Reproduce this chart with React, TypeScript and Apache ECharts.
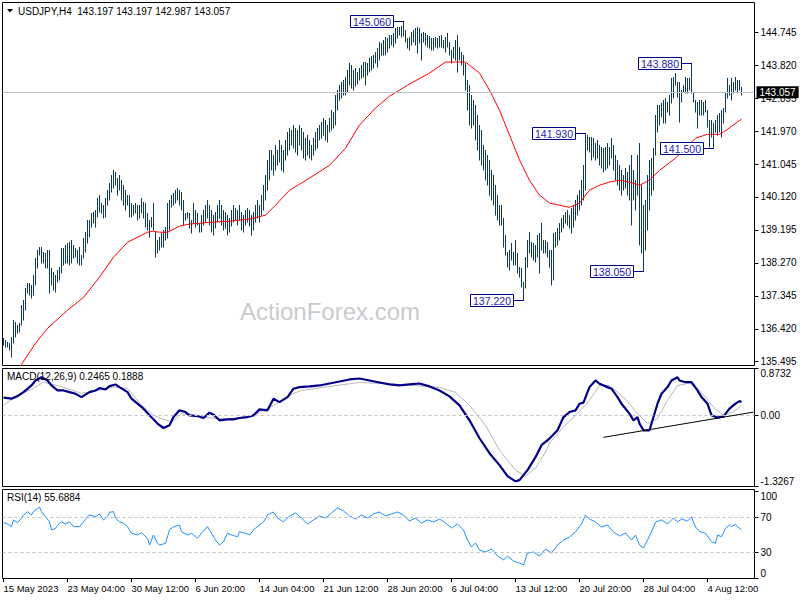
import React, { useEffect, useRef } from "react";
import * as echarts from "echarts";

// ---------- DATA ----------
const symbolTitle = "USDJPY,H4";
const lastOHLC = [143.197, 143.197, 142.987, 143.057];
const lastPrice = 143.057;
const macdTitleVals = [0.2465, 0.1888];
const rsiTitleVal = 55.6884;

const highs = [
  136.16, 136.10, 136.04, 136.02, 136.19, 136.66, 136.61, 136.52, 136.58, 137.08,
  137.22, 137.56, 137.70, 137.70, 137.65, 137.93, 138.40, 138.63, 138.71, 138.71,
  138.57, 138.54, 138.63, 138.63, 138.12, 138.01, 137.93, 138.07, 138.15, 138.68,
  138.68, 138.77, 138.82, 138.85, 138.91, 138.77, 138.68, 138.63, 138.71, 138.49,
  138.96, 139.13, 139.47, 139.47, 139.67, 139.69, 139.75, 140.09, 140.17, 139.95,
  139.89, 140.09, 140.31, 140.51, 140.73, 140.87, 140.82, 140.65, 140.73, 140.59,
  140.45, 140.31, 140.17, 140.17, 139.95, 139.89, 139.95, 139.89, 139.89, 140.09,
  139.97, 139.95, 139.67, 139.47, 139.55, 139.95, 139.13, 138.91, 138.99, 139.10,
  139.19, 139.27, 139.95, 140.03, 140.17, 140.23, 140.31, 140.37, 140.31, 140.25,
  140.03, 139.67, 139.69, 139.67, 139.47, 139.95, 139.75, 139.67, 139.38, 139.61,
  139.75, 139.89, 140.03, 139.89, 139.75, 139.61, 139.69, 139.89, 140.03, 139.89,
  139.75, 139.69, 139.61, 139.52, 139.75, 139.89, 139.81, 139.75, 139.89, 139.69,
  139.61, 139.75, 139.81, 139.75, 139.61, 139.69, 139.89, 140.03, 139.89, 140.17,
  140.45, 140.73, 141.15, 141.44, 141.44, 141.30, 141.58, 141.44, 141.72, 141.58,
  141.44, 141.72, 141.94, 142.05, 142.00, 142.14, 142.05, 142.00, 142.14, 142.05,
  141.94, 141.77, 141.86, 141.72, 141.58, 141.77, 141.94, 142.05, 142.14, 142.22,
  142.33, 142.28, 142.14, 142.33, 142.56, 142.50, 142.98, 143.12, 143.26, 143.35,
  143.40, 143.49, 143.68, 143.88, 143.82, 143.68, 143.74, 143.63, 143.74, 143.82,
  143.91, 143.91, 143.88, 144.02, 144.08, 144.10, 144.19, 144.30, 144.47, 144.44,
  144.53, 144.61, 144.58, 144.67, 144.67, 144.72, 144.86, 144.89, 144.89, 144.92,
  145.06, 144.81, 144.58, 144.61, 144.75, 144.81, 144.86, 144.89, 144.86, 144.72,
  144.75, 144.72, 144.67, 144.64, 144.58, 144.58, 144.61, 144.58, 144.64, 144.67,
  144.53, 144.61, 144.72, 144.47, 144.25, 144.33, 144.53, 144.67, 144.33, 144.19,
  144.10, 143.88, 143.40, 143.26, 142.98, 142.84, 142.70, 142.42, 142.14, 142.00,
  141.58, 141.44, 141.30, 141.15, 140.87, 140.73, 140.45, 140.17, 139.89, 139.89,
  139.52, 139.05, 138.57, 138.63, 138.82, 138.57, 138.91, 138.54, 138.15, 138.12,
  137.73, 138.43, 138.91, 139.13, 138.85, 138.82, 138.77, 139.05, 139.10, 139.38,
  138.91, 138.91, 138.85, 138.63, 138.63, 139.10, 139.13, 139.24, 139.38, 139.52,
  139.61, 139.69, 139.75, 139.61, 139.81, 139.89, 140.03, 140.17, 140.31, 140.59,
  141.01, 141.93, 141.86, 141.80, 141.80, 141.77, 141.63, 141.72, 141.58, 141.52,
  141.49, 141.52, 141.63, 141.52, 141.77, 141.58, 141.30, 141.15, 141.01, 140.87,
  140.73, 140.93, 140.82, 141.01, 141.30, 140.87, 140.59, 141.30, 141.63, 140.45,
  139.89, 140.03, 140.73, 141.15, 141.21, 141.49, 142.42, 142.70, 142.70, 142.76,
  142.84, 142.90, 142.78, 142.98, 143.46, 143.49, 143.60, 143.35, 143.35, 143.12,
  143.26, 143.49, 143.46, 143.46, 143.88, 143.07, 142.84, 142.78, 142.84, 142.84,
  142.78, 142.84, 142.56, 142.28, 142.28, 142.19, 142.28, 142.42, 142.48, 142.56,
  142.62, 143.07, 143.46, 143.26, 143.46, 143.35, 143.49, 143.40, 143.40, 143.197,
];

const lows = [
  135.96, 135.90, 135.90, 135.82, 135.62, 136.02, 136.19, 136.30, 136.33, 136.52,
  136.66, 136.94, 137.42, 137.37, 137.28, 137.37, 137.65, 138.12, 138.49, 138.26,
  138.26, 138.12, 138.12, 137.42, 137.65, 137.51, 137.45, 137.73, 137.79, 137.98,
  138.21, 138.26, 138.26, 138.21, 138.26, 138.40, 138.43, 138.26, 138.21, 138.21,
  138.40, 138.57, 138.82, 138.99, 139.27, 139.38, 139.27, 139.55, 139.69, 139.67,
  139.52, 139.55, 139.89, 140.03, 140.25, 140.37, 140.45, 140.17, 140.31, 140.03,
  139.89, 139.75, 139.89, 139.55, 139.55, 139.61, 139.67, 139.47, 139.52, 139.67,
  139.52, 139.27, 139.19, 138.99, 139.27, 139.19, 138.43, 138.54, 138.63, 138.71,
  138.71, 138.91, 138.96, 139.19, 139.83, 139.89, 139.95, 140.03, 139.89, 139.75,
  139.33, 139.47, 139.52, 139.24, 139.10, 139.38, 139.27, 139.33, 139.13, 139.13,
  139.33, 139.41, 139.52, 139.33, 139.13, 139.05, 139.24, 139.41, 139.52, 139.33,
  139.19, 139.24, 139.05, 139.13, 139.30, 139.41, 139.47, 139.33, 139.47, 139.19,
  139.13, 139.33, 139.41, 139.30, 139.05, 139.19, 139.41, 139.52, 139.41, 139.61,
  139.75, 140.03, 140.31, 140.59, 140.87, 140.73, 140.87, 141.01, 141.10, 140.87,
  140.82, 141.15, 141.30, 141.44, 141.58, 141.49, 141.38, 141.30, 141.58, 141.44,
  141.21, 141.15, 141.30, 141.21, 141.15, 141.30, 141.44, 141.49, 141.72, 141.77,
  141.86, 141.72, 141.66, 141.94, 142.00, 142.05, 142.14, 142.56, 142.84, 142.90,
  142.98, 142.98, 143.07, 143.26, 143.18, 143.12, 143.23, 143.29, 143.40, 143.46,
  143.49, 143.26, 143.54, 143.63, 143.68, 143.74, 143.88, 143.77, 143.96, 144.10,
  144.10, 144.10, 144.19, 144.30, 144.39, 144.33, 144.44, 144.58, 144.67, 144.61,
  144.64, 144.47, 144.30, 144.25, 144.39, 144.47, 144.39, 144.16, 144.44, 143.96,
  144.47, 144.39, 144.33, 144.30, 144.25, 144.25, 144.33, 144.30, 144.33, 144.33,
  144.30, 144.19, 144.33, 144.10, 143.88, 144.02, 143.96, 143.63, 143.96, 143.82,
  143.54, 143.12, 142.56, 142.14, 142.05, 142.14, 141.72, 141.44, 141.15, 141.01,
  140.87, 140.59, 140.45, 140.17, 140.03, 139.89, 139.61, 139.47, 139.33, 139.33,
  138.71, 138.49, 138.15, 138.07, 138.35, 138.21, 138.21, 137.98, 137.87, 137.59,
  137.22, 137.56, 138.15, 138.54, 138.43, 138.35, 138.29, 138.43, 137.98, 138.63,
  138.54, 138.54, 138.43, 138.15, 137.65, 137.78, 138.71, 138.77, 138.91, 139.13,
  139.24, 139.38, 139.33, 139.24, 139.10, 139.27, 139.47, 139.61, 139.75, 139.89,
  140.03, 140.31, 141.44, 141.38, 141.15, 141.24, 141.15, 141.21, 141.01, 140.93,
  140.82, 140.87, 140.93, 141.01, 141.21, 140.87, 140.59, 140.45, 140.31, 140.17,
  140.31, 140.37, 140.17, 140.03, 139.33, 140.03, 139.75, 140.17, 138.77, 138.54,
  138.05, 138.63, 139.19, 139.75, 140.17, 140.31, 141.30, 141.94, 142.14, 142.36,
  142.19, 142.19, 142.50, 142.42, 142.76, 142.90, 143.26, 142.92, 142.22, 142.78,
  143.07, 143.04, 143.04, 143.12, 143.04, 142.78, 142.50, 142.05, 142.42, 142.42,
  142.42, 142.50, 142.08, 141.52, 141.80, 141.50, 141.94, 141.86, 141.94, 141.80,
  142.19, 142.50, 142.90, 142.98, 142.84, 143.04, 143.12, 143.04, 143.12, 142.987,
];

// moving average (red), read at selected bars
const maIdx = [0, 9, 16, 22, 32, 40, 48, 55, 62, 67, 72, 75, 78, 82, 88, 93, 98, 103, 113, 123, 131, 136, 143, 153, 163, 171, 178, 186, 193, 202, 213, 221, 226, 231, 233, 238, 243, 248, 253, 258, 263, 268, 273, 278, 283, 288, 293, 298, 303, 308, 313, 318, 323, 328, 336, 341, 346, 352, 358, 360, 369];
const maVal = [134.75, 135.42, 136.01, 136.43, 136.94, 137.30, 137.87, 138.43, 138.85, 138.99, 139.13, 139.16, 139.13, 139.13, 139.30, 139.36, 139.38, 139.41, 139.44, 139.50, 139.61, 139.89, 140.31, 140.65, 141.01, 141.49, 142.14, 142.62, 142.95, 143.26, 143.60, 143.91, 143.91, 143.91, 143.82, 143.60, 143.12, 142.56, 141.86, 141.16, 140.59, 140.17, 139.95, 139.89, 139.83, 139.95, 140.31, 140.45, 140.54, 140.59, 140.54, 140.45, 140.59, 140.87, 141.21, 141.49, 141.77, 141.88, 141.88, 141.94, 142.31];

// MACD main line
const macdIdx = [0, 4, 7, 10, 14, 16, 19, 22, 24, 27, 30, 33, 36, 39, 43, 46, 48, 51, 53, 56, 58, 62, 64, 67, 70, 73, 77, 80, 83, 85, 88, 91, 93, 97, 100, 103, 105, 108, 112, 115, 118, 122, 125, 128, 132, 135, 138, 142, 145, 148, 153, 158, 163, 168, 173, 178, 183, 188, 193, 198, 203, 208, 213, 218, 223, 228, 233, 238, 243, 248, 252, 256, 258, 262, 266, 269, 273, 277, 280, 283, 286, 288, 290, 292, 293, 296, 298, 302, 304, 307, 309, 313, 315, 317, 318, 320, 323, 325, 327, 329, 332, 334, 337, 338, 341, 344, 347, 349, 352, 354, 357, 360, 363, 366, 368, 369];
const macdVal = [0.329, 0.31, 0.358, 0.433, 0.557, 0.65, 0.711, 0.65, 0.557, 0.464, 0.464, 0.433, 0.403, 0.34, 0.433, 0.464, 0.507, 0.483, 0.544, 0.576, 0.526, 0.433, 0.31, 0.217, 0.124, 0, -0.154, -0.236, -0.186, -0.032, 0.093, 0.061, 0, -0.013, -0.05, 0.05, 0.013, -0.093, -0.074, -0.074, -0.05, -0.032, 0, 0.111, 0.093, 0.31, 0.247, 0.34, 0.496, 0.526, 0.539, 0.557, 0.594, 0.631, 0.669, 0.687, 0.65, 0.613, 0.576, 0.557, 0.576, 0.594, 0.539, 0.464, 0.353, 0.186, -0.093, -0.427, -0.706, -0.929, -1.133, -1.23, -1.207, -1.021, -0.78, -0.557, -0.433, -0.279, -0.032, 0.061, 0.093, 0.217, 0.236, 0.433, 0.526, 0.65, 0.589, 0.526, 0.496, 0.34, 0.217, 0.032, -0.093, -0.032, -0.154, -0.279, -0.279, -0.032, 0.217, 0.403, 0.526, 0.65, 0.711, 0.65, 0.618, 0.618, 0.464, 0.34, 0.217, 0, -0.043, -0.019, 0.124, 0.217, 0.266, 0.2465];

// MACD signal line
const sigIdx = [0, 7, 15, 20, 27, 39, 47, 55, 62, 69, 75, 79, 84, 89, 99, 107, 115, 125, 135, 145, 149, 163, 178, 198, 218, 226, 233, 241, 248, 256, 261, 266, 271, 273, 280, 287, 293, 298, 303, 310, 317, 322, 327, 332, 337, 343, 348, 355, 360, 365, 369];
const sigVal = [0.186, 0.371, 0.501, 0.618, 0.557, 0.409, 0.464, 0.526, 0.501, 0.186, 0, -0.061, -0.124, 0.032, -0.032, -0.061, -0.061, 0, 0.186, 0.409, 0.464, 0.539, 0.613, 0.576, 0.52, 0.427, 0.186, -0.186, -0.65, -1.021, -1.133, -0.984, -0.687, -0.52, -0.217, 0.032, 0.279, 0.557, 0.557, 0.34, 0.032, -0.154, -0.061, 0.279, 0.557, 0.6, 0.464, 0.154, 0, 0.061, 0.1888];

// MACD trendline (bar index, value)
const trendStart = [300, -0.41];
const trendEnd = [375, 0.06];

// RSI(14)
const rsiIdx = [0, 2, 4, 5, 7, 9, 10, 12, 14, 15, 17, 18, 19, 21, 23, 24, 26, 28, 29, 31, 33, 35, 38, 40, 42, 43, 46, 48, 50, 52, 53, 55, 56, 58, 60, 62, 64, 67, 69, 72, 73, 75, 77, 78, 81, 83, 85, 88, 89, 92, 94, 97, 99, 102, 103, 106, 108, 110, 112, 114, 117, 118, 121, 123, 126, 130, 132, 135, 137, 140, 143, 146, 149, 152, 155, 158, 161, 164, 167, 170, 173, 176, 179, 182, 185, 188, 191, 194, 197, 200, 203, 206, 209, 212, 215, 218, 221, 224, 227, 230, 232, 234, 236, 238, 241, 244, 247, 250, 252, 255, 258, 260, 262, 265, 268, 271, 274, 277, 280, 283, 286, 289, 291, 293, 296, 299, 302, 305, 308, 311, 314, 316, 318, 320, 322, 324, 326, 329, 332, 335, 337, 339, 342, 344, 346, 348, 351, 354, 356, 357, 359, 361, 363, 364, 366, 367, 369];
const rsiVal = [63.8, 62.3, 59.2, 66.9, 63.8, 68.8, 72.7, 76.5, 72.7, 76.5, 80.4, 81.5, 76.5, 70.7, 64.9, 55.4, 57.3, 63.1, 64.9, 62.3, 64.9, 59.2, 59.2, 64.9, 70.7, 72.7, 70.7, 73.8, 66.9, 70.7, 75.8, 76.5, 68.8, 64.9, 63.1, 59.2, 51.6, 49.6, 52.2, 45.8, 38.1, 49.6, 40.0, 38.1, 40.0, 55.4, 59.2, 61.1, 53.4, 49.6, 51.6, 45.8, 51.6, 59.2, 55.4, 43.8, 38.1, 41.9, 51.6, 49.6, 47.6, 53.4, 51.6, 49.6, 57.7, 64.6, 72.7, 76.1, 69.2, 64.6, 71.5, 75.0, 69.2, 62.3, 66.9, 71.5, 69.2, 75.0, 80.7, 77.3, 71.5, 68.0, 72.7, 69.2, 73.8, 76.1, 71.5, 73.8, 76.1, 72.7, 65.7, 69.2, 63.4, 66.9, 64.6, 68.0, 63.4, 57.7, 62.3, 55.4, 43.8, 35.8, 40.4, 32.3, 30.0, 33.5, 25.4, 20.8, 25.4, 19.6, 17.3, 15.0, 28.8, 30.0, 25.4, 33.5, 28.8, 38.1, 43.8, 47.3, 53.1, 62.3, 72.7, 68.0, 64.6, 58.8, 61.1, 53.1, 48.4, 51.9, 43.8, 49.6, 38.1, 34.6, 43.8, 53.1, 64.6, 66.9, 62.3, 69.2, 64.6, 68.0, 65.7, 70.3, 58.8, 53.6, 51.6, 41.9, 40.0, 49.6, 47.6, 57.3, 61.1, 59.2, 61.9, 59.2, 55.69];

// annotated swing points
const annIdx = [200, 260, 291, 320, 344, 355];
const annVal = [145.06, 137.22, 141.93, 138.05, 143.88, 141.5];
const annSide = [1, -1, 1, -1, 1, -1];

// axis ticks
const priceTicks = [135.495, 136.42, 137.345, 138.27, 139.195, 140.12, 141.045, 141.97, 142.895, 143.82, 144.745];
const macdMax = 0.8732;
const macdMin = -1.3267;
const rsiLevels = [30, 70];

// time axis
const MONTHS = ["Jan", "Feb", "Mar", "Apr", "May", "Jun", "Jul", "Aug", "Sep", "Oct", "Nov", "Dec"];
const TOTAL_SLOTS = 376;
const LABEL_STEP = 32;

function buildCategories(): string[] {
  const out: string[] = [];
  let t = Date.UTC(2023, 4, 15, 20);
  while (out.length < TOTAL_SLOTS) {
    const d = new Date(t);
    const wd = d.getUTCDay();
    if (wd !== 0 && wd !== 6) {
      const hh = String(d.getUTCHours()).padStart(2, "0");
      out.push(
        out.length === 0
          ? `${d.getUTCDate()} ${MONTHS[d.getUTCMonth()]} ${d.getUTCFullYear()}`
          : `${d.getUTCDate()} ${MONTHS[d.getUTCMonth()]} ${hh}:00`
      );
    }
    t += 4 * 3600 * 1000;
  }
  return out;
}

const FONT = "Liberation Sans";
const BAR_COLOR = "#0e3a5a";

export default function App() {
  const ref = useRef<HTMLDivElement>(null);

  useEffect(() => {
    const chart = echarts.init(ref.current!, null, { renderer: "svg" });
    const cats = buildCategories();

    const gridBase = {
      show: true,
      borderColor: "#000",
      borderWidth: 1,
      backgroundColor: "transparent",
      containLabel: false,
      outerBoundsMode: "none",
    };

    const xBase = (gi: number, show: boolean) => ({
      type: "category",
      gridIndex: gi,
      data: cats,
      boundaryGap: true,
      show,
      axisLine: { show: false },
      splitLine: { show: false },
      axisTick: {
        show,
        alignWithLabel: true,
        interval: (i: number) => i % LABEL_STEP === 0,
        length: 4,
        lineStyle: { color: "#000", width: 1 },
      },
      axisLabel: {
        show,
        interval: (i: number) => i % LABEL_STEP === 0,
        align: "left",
        margin: 5,
        fontSize: 9.5,
        fontFamily: FONT,
        color: "#000",
      },
    });

    const yBase = (gi: number, min: number, max: number) => ({
      type: "value",
      gridIndex: gi,
      position: "right",
      min,
      max,
      splitLine: { show: false },
      axisLine: { show: false },
    });

    const labelStyle = { fontSize: 10, fontFamily: FONT, color: "#000" };

    const option: any = {
      animation: false,
      backgroundColor: "#fff",
      grid: [
        { ...gridBase, left: 2.5, top: 2.5, width: 752, height: 363 },
        { ...gridBase, left: 2.5, top: 368.5, width: 752, height: 118 },
        { ...gridBase, left: 2.5, top: 489.5, width: 752, height: 89 },
      ],
      xAxis: [xBase(0, false), xBase(1, false), xBase(2, true)],
      yAxis: [
        {
          ...yBase(0, 135.388, 145.582),
          axisTick: { show: true, length: 4, customValues: priceTicks, lineStyle: { color: "#000" } },
          axisLabel: { ...labelStyle, margin: 6, customValues: priceTicks, formatter: (v: number) => v.toFixed(3) },
        },
        {
          ...yBase(1, macdMin, macdMax),
          axisTick: { show: true, length: 4, customValues: [macdMin, 0, macdMax], lineStyle: { color: "#000" } },
          axisLabel: { ...labelStyle, margin: 6, customValues: [0], formatter: () => "0.00" },
        },
        {
          ...yBase(1, macdMin, macdMax),
          axisTick: { show: false },
          axisLabel: { ...labelStyle, margin: 6, verticalAlign: "top", customValues: [macdMax], formatter: (v: number) => v.toFixed(4) },
        },
        {
          ...yBase(1, macdMin, macdMax),
          axisTick: { show: false },
          axisLabel: { ...labelStyle, margin: 6, verticalAlign: "bottom", customValues: [macdMin], formatter: (v: number) => v.toFixed(4) },
        },
        {
          ...yBase(2, -0.5, 102),
          axisTick: { show: true, length: 4, customValues: [0, 30, 70, 100], lineStyle: { color: "#000" } },
          axisLabel: { ...labelStyle, margin: 6, customValues: rsiLevels, formatter: (v: number) => String(Math.round(v)) },
        },
        {
          ...yBase(2, -0.5, 102),
          axisTick: { show: false },
          axisLabel: { ...labelStyle, margin: 6, verticalAlign: "top", customValues: [100], formatter: () => "100" },
        },
        {
          ...yBase(2, -0.5, 102),
          axisTick: { show: false },
          axisLabel: { ...labelStyle, margin: 6, verticalAlign: "bottom", customValues: [0], formatter: () => "0" },
        },
      ],
      graphic: [
        {
          type: "text",
          x: 330,
          y: 311,
          z: 0,
          silent: true,
          style: {
            text: "ActionForex.com",
            fill: "#c8cbce",
            fontSize: 24,
            fontFamily: FONT,
            align: "center",
            verticalAlign: "middle",
            textAlign: "center",
            textVerticalAlign: "middle",
          },
        },
        {
          type: "polygon",
          z: 100,
          shape: { points: [[7, 9], [13, 9], [10, 12.5]] },
          style: { fill: "#000" },
        },
        {
          type: "text",
          x: 18,
          y: 11,
          z: 100,
          style: {
            text: `${symbolTitle}  ${lastOHLC.map((v) => v.toFixed(3)).join(" ")}`,
            fill: "#000",
            fontSize: 10,
            fontFamily: FONT,
            verticalAlign: "middle",
            textVerticalAlign: "middle",
          },
        },
        {
          type: "text",
          x: 7,
          y: 376,
          z: 100,
          style: {
            text: `MACD(12,26,9) ${macdTitleVals[0].toFixed(4)} ${macdTitleVals[1].toFixed(4)}`,
            fill: "#000",
            fontSize: 10,
            fontFamily: FONT,
            verticalAlign: "middle",
            textVerticalAlign: "middle",
          },
        },
        {
          type: "text",
          x: 7,
          y: 497,
          z: 100,
          style: {
            text: `RSI(14) ${rsiTitleVal.toFixed(4)}`,
            fill: "#000",
            fontSize: 10,
            fontFamily: FONT,
            verticalAlign: "middle",
            textVerticalAlign: "middle",
          },
        },
      ],
      series: [
        {
          type: "line",
          name: "lastPrice",
          xAxisIndex: 0,
          yAxisIndex: 0,
          data: [],
          clip: false,
          silent: true,
          markLine: {
            silent: true,
            symbol: "none",
            lineStyle: { color: "#c0c0c0", width: 1, type: "solid" },
            label: {
              show: true,
              position: "end",
              distance: 2,
              formatter: () => lastPrice.toFixed(3),
              color: "#fff",
              backgroundColor: "#000",
              padding: [1, 3, 1, 3],
              fontSize: 10,
              fontFamily: FONT,
            },
            data: [{ yAxis: lastPrice }],
          },
        },
        {
          type: "custom",
          name: "bars",
          xAxisIndex: 0,
          yAxisIndex: 0,
          clip: true,
          silent: true,
          data: highs.map((h, i) => [i, lows[i], h]),
          encode: { x: 0, y: [1, 2] },
          renderItem: (params: any, api: any) => {
            const i = api.value(0);
            const lo = api.coord([i, api.value(1)]);
            const hi = api.coord([i, api.value(2)]);
            const px = Math.floor(lo[0]) + 0.5;
            return {
              type: "line",
              shape: { x1: px, y1: Math.round(lo[1]) + 0.5, x2: px, y2: Math.round(hi[1]) },
              style: { stroke: BAR_COLOR, lineWidth: 1 },
            };
          },
        },
        {
          type: "line",
          name: "MA",
          xAxisIndex: 0,
          yAxisIndex: 0,
          data: maIdx.map((x, k) => [x, maVal[k]]),
          showSymbol: false,
          clip: true,
          silent: true,
          lineStyle: { color: "#ff0000", width: 1 },
          z: 3,
        },
        {
          type: "custom",
          name: "annotations",
          xAxisIndex: 0,
          yAxisIndex: 0,
          clip: false,
          silent: true,
          z: 5,
          data: annIdx.map((x, k) => [x, annVal[k], annSide[k]]),
          encode: { x: 0, y: 1 },
          renderItem: (params: any, api: any) => {
            const i = api.value(0);
            const v = api.value(1);
            const side = api.value(2);
            const anchor = api.coord([i, v]);
            const end = api.coord([i, side > 0 ? highs[i] : lows[i]]);
            const bx = Math.floor(anchor[0]) + 0.5;
            const by = Math.round(anchor[1]) + 0.5;
            const w = 43;
            const h = 12;
            const right = bx - 10;
            return {
              type: "group",
              children: [
                {
                  type: "polyline",
                  shape: { points: [[right, by], [bx, by], [bx, Math.round(end[1])]] },
                  style: { stroke: "#000080", fill: null, lineWidth: 1 },
                },
                {
                  type: "rect",
                  shape: { x: right - w, y: by - h / 2, width: w, height: h },
                  style: { fill: "#fff", stroke: "#000080", lineWidth: 1 },
                },
                {
                  type: "text",
                  x: right - w / 2,
                  y: by + 0.5,
                  style: {
                    text: v.toFixed(3),
                    fill: "#1a1ab4",
                    fontSize: 10.5,
                    fontFamily: FONT,
                    align: "center",
                    verticalAlign: "middle",
                  },
                },
              ],
            };
          },
        },
        {
          type: "line",
          name: "MACD",
          xAxisIndex: 1,
          yAxisIndex: 1,
          data: macdIdx.map((x, k) => [x, macdVal[k]]),
          showSymbol: false,
          clip: true,
          silent: true,
          lineStyle: { color: "#00008b", width: 2.2 },
          z: 4,
          markLine: {
            silent: true,
            symbol: "none",
            label: { show: false },
            data: [
              { yAxis: 0, lineStyle: { color: "#c0c0c0", width: 1, type: [3, 3] } },
              [
                { coord: trendStart, lineStyle: { color: "#000", width: 1, type: "solid" } },
                { coord: trendEnd },
              ],
            ],
          },
        },
        {
          type: "line",
          name: "Signal",
          xAxisIndex: 1,
          yAxisIndex: 1,
          data: sigIdx.map((x, k) => [x, sigVal[k]]),
          showSymbol: false,
          clip: true,
          silent: true,
          lineStyle: { color: "#b8b8b8", width: 1 },
          z: 3,
        },
        {
          type: "line",
          name: "RSI",
          xAxisIndex: 2,
          yAxisIndex: 4,
          data: rsiIdx.map((x, k) => [x, rsiVal[k]]),
          showSymbol: false,
          clip: true,
          silent: true,
          lineStyle: { color: "#1e90ff", width: 1 },
          markLine: {
            silent: true,
            symbol: "none",
            label: { show: false },
            lineStyle: { color: "#c0c0c0", width: 1, type: [3, 3] },
            data: rsiLevels.map((v) => ({ yAxis: v })),
          },
        },
      ],
    };

    chart.setOption(option);
    return () => chart.dispose();
  }, []);

  return (
    <div
      ref={ref}
      style={{ position: "fixed", left: 0, top: 0, width: 800, height: 600, background: "#fff" }}
    />
  );
}
